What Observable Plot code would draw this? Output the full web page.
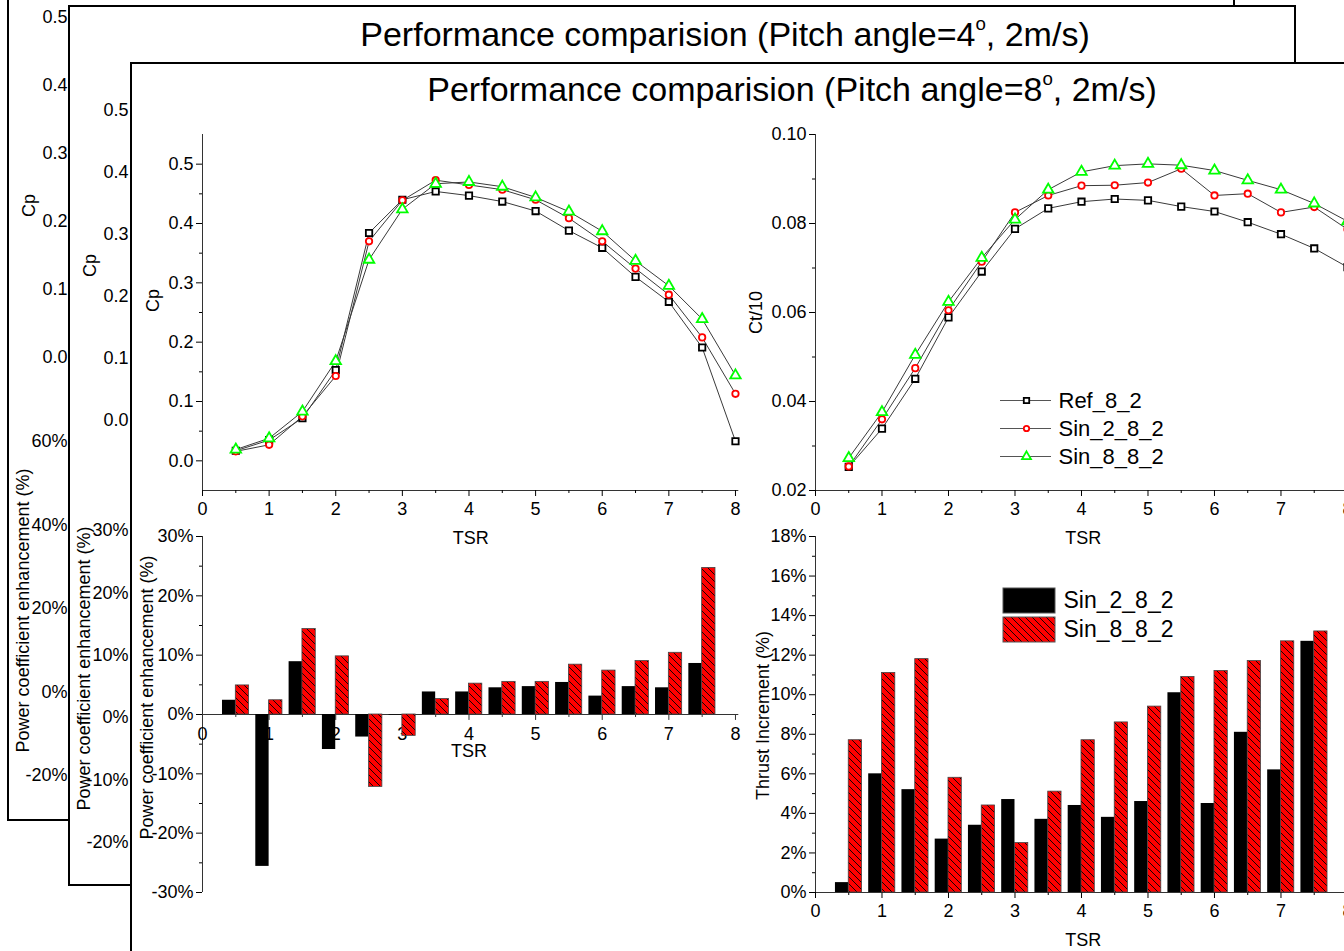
<!DOCTYPE html>
<html><head><meta charset="utf-8">
<script src="https://cdn.jsdelivr.net/npm/d3@7"></script>
<script src="https://cdn.jsdelivr.net/npm/@observablehq/plot@0.6"></script>
<style>
html,body{margin:0;padding:0;background:#fff;}
#stage{position:relative;width:1344px;height:951px;overflow:hidden;background:#fff;font-family:"Liberation Sans",Arial,sans-serif;}
.win{position:absolute;box-sizing:border-box;border:2px solid #000;background:#fff;overflow:hidden;}
.title{position:absolute;white-space:nowrap;font-size:34px;line-height:34px;transform:translateX(-50%);color:#000;}
.title .deg{font-size:0.55em;vertical-align:0.85em;}
</style></head><body>
<svg width="0" height="0" style="position:absolute"><defs>
<pattern id="hatch" patternUnits="userSpaceOnUse" width="7" height="7">
<rect width="7" height="7" fill="#ff0000"/>
<path d="M0,0L7,7M-1,6L1,8M6,-1L8,1" stroke="#000" stroke-width="0.9"/>
</pattern></defs></svg>
<div id="stage"></div>
<script>
// ---------------- DATA ----------------
const tsr = [0.5, 1, 1.5, 2, 2.5, 3, 3.5, 4, 4.5, 5, 5.5, 6, 6.5, 7, 7.5, 8];
const cpRef  = [0.017, 0.035, 0.072, 0.153, 0.384, 0.440, 0.454, 0.447, 0.437, 0.421, 0.388, 0.359, 0.310, 0.268, 0.191, 0.033];
const cpSin2 = [0.016, 0.027, 0.075, 0.143, 0.370, 0.439, 0.473, 0.465, 0.457, 0.440, 0.409, 0.370, 0.324, 0.280, 0.208, 0.113];
const cpSin8 = [0.019, 0.038, 0.083, 0.168, 0.339, 0.424, 0.467, 0.470, 0.462, 0.444, 0.420, 0.387, 0.337, 0.295, 0.239, 0.144];
const ctRef  = [0.0253, 0.0339, 0.0451, 0.0589, 0.0692, 0.0788, 0.0834, 0.0849, 0.0855, 0.0852, 0.0838, 0.0827, 0.0803, 0.0776, 0.0744, 0.0702];
const ctSin2 = [0.0254, 0.0360, 0.0475, 0.0605, 0.0714, 0.0825, 0.0863, 0.0885, 0.0886, 0.0892, 0.0923, 0.0863, 0.0867, 0.0825, 0.0837, 0.0787];
const ctSin8 = [0.0273, 0.0376, 0.0505, 0.0624, 0.0723, 0.0809, 0.0876, 0.0916, 0.0930, 0.0934, 0.0931, 0.0919, 0.0897, 0.0876, 0.0845, 0.0805];

const tsrBars = [0.5, 1, 1.5, 2, 2.5, 3, 3.5, 4, 4.5, 5, 5.5, 6, 6.5, 7, 7.5];
const enhSin2 = [2.4, -25.6, 8.9, -5.9, -3.8, -0.1, 3.8, 3.8, 4.5, 4.7, 5.4, 3.1, 4.7, 4.5, 8.6];
const enhSin8 = [4.9, 2.4, 14.4, 9.8, -12.2, -3.6, 2.6, 5.2, 5.5, 5.5, 8.4, 7.4, 9.0, 10.4, 24.7];
const thrSin2 = [0.5, 6.0, 5.2, 2.7, 3.4, 4.7, 3.7, 4.4, 3.8, 4.6, 10.1, 4.5, 8.1, 6.2, 12.7];
const thrSin8 = [7.7, 11.1, 11.8, 5.8, 4.4, 2.5, 5.1, 7.7, 8.6, 9.4, 10.9, 11.2, 11.7, 12.7, 13.2];

const lineSeriesNames = ["Ref_8_2", "Sin_2_8_2", "Sin_8_8_2"];
const barSeriesNames = ["Sin_2_8_2", "Sin_8_8_2"];

const xMajor = [0, 1, 2, 3, 4, 5, 6, 7, 8];
const xMinor = [0.5, 1.5, 2.5, 3.5, 4.5, 5.5, 6.5, 7.5];
const cpMajor = [0, 0.1, 0.2, 0.3, 0.4, 0.5];
const cpMinor = [0.05, 0.15, 0.25, 0.35, 0.45];
const ctMajor = [0.02, 0.04, 0.06, 0.08, 0.10];
const ctMinor = [0.03, 0.05, 0.07, 0.09];
const enhMajor = [-30, -20, -10, 0, 10, 20, 30];
const enhMinor = [-25, -15, -5, 5, 15, 25];
const thrMajor = [0, 2, 4, 6, 8, 10, 12, 14, 16, 18];
const thrMinor = [1, 3, 5, 7, 9, 11, 13, 15, 17];
const w1EnhMajor = [-20, 0, 20, 40, 60];
const w2EnhMajor = [-20, -10, 0, 10, 20, 30];

// ---------------- LAYOUT ----------------
const FONT = '"Liberation Sans", Arial, sans-serif';
const B = 2;
const OX = -100, OY = -100, SW = 1600, SH = 1200;
const WIN = [
  {left: 7, top: -60, width: 1228, height: 881},
  {left: 68, top: 5, width: 1228, height: 881},
  {left: 130, top: 62, width: 1400, height: 1000}
];
const F = {
  cp:    {left: 202, right: 738.3, top: 134, bottom: 490},
  ct:    {left: 815, right: 1350.3, top: 134, bottom: 490},
  enh:   {left: 202, right: 738.3, top: 536, bottom: 892},
  thr:   {left: 815, right: 1350.3, top: 536, bottom: 892},
  w1cp:  {left: 76, right: 600, top: -17, bottom: 391},
  w1enh: {left: 76, right: 600, top: 399.25, bottom: 816.75},
  w2cp:  {left: 137, right: 670, top: 79, bottom: 451},
  w2enh: {left: 137, right: 670, top: 530, bottom: 904.4}
};

const stage = document.getElementById("stage");
function makeWin(w) {
  const d = document.createElement("div");
  d.className = "win";
  Object.assign(d.style, {left: w.left + "px", top: w.top + "px", width: w.width + "px", height: w.height + "px"});
  stage.appendChild(d);
  return d;
}
function styleSvg(svg, win, left, top, fs) {
  Object.assign(svg.style, {position: "absolute", left: (left - win.left - B) + "px", top: (top - win.top - B) + "px",
    background: "none", maxWidth: "none", overflow: "visible", fontFamily: FONT, fontSize: fs, color: "#000"});
}
function panel(win, el, f, xDomain, yDomain, marks) {
  const svg = Plot.plot({
    width: SW, height: SH,
    marginLeft: f.left - OX, marginRight: OX + SW - f.right,
    marginTop: f.top - OY, marginBottom: OY + SH - f.bottom,
    x: {domain: xDomain, axis: null},
    y: {domain: yDomain, axis: null},
    marks
  });
  styleSvg(svg, win, OX, OY, "18px");
  svg.style.height = SH + "px";
  el.appendChild(svg);
}
function vlabel(text, f, cx, cy) {
  return Plot.text([text], {frameAnchor: "left", rotate: -90, text: d => d, textAnchor: "middle", lineAnchor: "middle",
    dx: cx - f.left, dy: cy - (f.top + f.bottom) / 2, fontSize: 18});
}
function yAxis(major, minor, fmt) {
  const m = [Plot.axisY(major, {anchor: "left", tickSize: 6, tickPadding: 3, tickFormat: fmt, label: null})];
  if (minor) m.push(Plot.axisY(minor, {anchor: "left", tickSize: 3, tickFormat: () => "", label: null}));
  return m;
}
function xAxisBottom() {
  return [
    Plot.axisX(xMajor, {anchor: "bottom", tickSize: 6, tickPadding: 6, tickFormat: d => String(d), label: null}),
    Plot.axisX(xMinor, {anchor: "bottom", tickSize: 3, tickFormat: () => "", label: null})
  ];
}
function tsrLabel() {
  return Plot.text(["TSR"], {frameAnchor: "bottom", lineAnchor: "middle", dy: 48, text: d => d, fontSize: 18});
}
const pct = d => d + "%";
const SERIES = [
  {key: "ref", name: "Ref_8_2", symbol: "square", color: "#000000", r: 3.6},
  {key: "sin2", name: "Sin_2_8_2", symbol: "circle", color: "#ff0000", r: 3.2},
  {key: "sin8", name: "Sin_8_8_2", symbol: "triangle", color: "#00ff00", r: 3.9}
];
function seriesMarks(rows) {
  return SERIES.map(s => Plot.line(rows, {x: "tsr", y: s.key, stroke: "#3a3a3a", strokeWidth: 1}))
    .concat(SERIES.map(s => Plot.dot(rows, {x: "tsr", y: s.key, symbol: s.symbol, r: s.r,
      stroke: s.color, strokeWidth: 1.8, fill: "#fff"})));
}
function barMarks(rows) {
  return [
    Plot.rect(rows, {x1: d => d.tsr - 0.2, x2: d => d.tsr, y1: () => 0, y2: "a", fill: "#000"}),
    Plot.rect(rows, {x1: d => d.tsr, x2: d => d.tsr + 0.2, y1: () => 0, y2: "b", fill: "url(#hatch)", stroke: "#444", strokeWidth: 0.8})
  ];
}

const cpRows = tsr.map((t, i) => ({tsr: t, ref: cpRef[i], sin2: cpSin2[i], sin8: cpSin8[i]}));
const ctRows = tsr.map((t, i) => ({tsr: t, ref: ctRef[i], sin2: ctSin2[i], sin8: ctSin8[i]}));
const enhRows = tsrBars.map((t, i) => ({tsr: t, a: enhSin2[i], b: enhSin8[i]}));
const thrRows = tsrBars.map((t, i) => ({tsr: t, a: thrSin2[i], b: thrSin8[i]}));

// ---------------- WINDOW 1 (back) ----------------
const w1 = makeWin(WIN[0]);
panel(WIN[0], w1, F.w1cp, [0, 8.05], [-0.05, 0.55], [
  ...yAxis(cpMajor, null, d3.format(".1f")),
  vlabel("Cp", F.w1cp, 29, 205)
]);
panel(WIN[0], w1, F.w1enh, [0, 8.05], [-30, 70], [
  ...yAxis(w1EnhMajor, null, pct),
  vlabel("Power coefficient enhancement (%)", F.w1enh, 23, 610)
]);

// ---------------- WINDOW 2 ----------------
const w2 = makeWin(WIN[1]);
panel(WIN[1], w2, F.w2cp, [0, 8.05], [-0.05, 0.55], [
  ...yAxis(cpMajor, null, d3.format(".1f")),
  vlabel("Cp", F.w2cp, 90, 265)
]);
panel(WIN[1], w2, F.w2enh, [0, 8.05], [-30, 30], [
  ...yAxis(w2EnhMajor, null, pct),
  vlabel("Power coefficient enhancement (%)", F.w2enh, 84, 668)
]);
const t2 = document.createElement("div");
t2.className = "title";
t2.innerHTML = 'Performance comparision (Pitch angle=4<span class="deg">o</span>, 2m/s)';
t2.style.left = (725 - WIN[1].left - B) + "px";
t2.style.top = (7 - WIN[1].top - B) + "px";
w2.appendChild(t2);

// ---------------- WINDOW 3 (front) ----------------
const w3 = makeWin(WIN[2]);
const t3 = document.createElement("div");
t3.className = "title";
t3.innerHTML = 'Performance comparision (Pitch angle=8<span class="deg">o</span>, 2m/s)';
t3.style.left = (792 - WIN[2].left - B) + "px";
t3.style.top = (62 - WIN[2].top - B) + "px";
w3.appendChild(t3);

// Cp
panel(WIN[2], w3, F.cp, [0, 8.05], [-0.05, 0.55], [
  Plot.ruleX([0], {stroke: "#333"}),
  Plot.ruleY([-0.05], {stroke: "#333"}),
  ...yAxis(cpMajor, cpMinor, d3.format(".1f")),
  ...xAxisBottom(),
  vlabel("Cp", F.cp, 153, 300),
  tsrLabel(),
  ...seriesMarks(cpRows)
]);
// Ct/10
panel(WIN[2], w3, F.ct, [0, 8.05], [0.02, 0.10], [
  Plot.ruleX([0], {stroke: "#333"}),
  Plot.ruleY([0.02], {stroke: "#333"}),
  ...yAxis(ctMajor, ctMinor, d3.format(".2f")),
  ...xAxisBottom(),
  vlabel("Ct/10", F.ct, 756, 312),
  tsrLabel(),
  ...seriesMarks(ctRows)
]);
// Power coefficient enhancement
panel(WIN[2], w3, F.enh, [0, 8.05], [-30, 30], [
  Plot.ruleX([0], {stroke: "#333"}),
  Plot.ruleY([0], {stroke: "#333"}),
  ...yAxis(enhMajor, enhMinor, pct),
  Plot.ruleX(xMajor, {x: d => d, y1: () => 0, y2: () => -1, stroke: "#333"}),
  Plot.ruleX(xMinor, {x: d => d, y1: () => 0, y2: () => -0.5, stroke: "#333"}),
  Plot.text(xMajor, {x: d => d, y: () => 0, dy: 20, text: d => String(d), fontSize: 18}),
  Plot.text(["TSR"], {x: () => 4, y: () => 0, dy: 37, text: d => d, fontSize: 18}),
  vlabel("Power coefficient enhancement (%)", F.enh, 147, 697),
  ...barMarks(enhRows)
]);
// Thrust increment
panel(WIN[2], w3, F.thr, [0, 8.05], [0, 18], [
  Plot.ruleX([0], {stroke: "#333"}),
  Plot.ruleY([0], {stroke: "#333"}),
  ...yAxis(thrMajor, thrMinor, pct),
  ...xAxisBottom(),
  vlabel("Thrust Increment (%)", F.thr, 763, 715),
  tsrLabel(),
  ...barMarks(thrRows)
]);

// Line legend
{
  const svg = Plot.plot({
    width: 200, height: 90, margin: 0,
    x: {domain: [0, 200], range: [0, 200], axis: null},
    y: {type: "point", domain: lineSeriesNames, range: [20, 76], padding: 0, axis: null},
    marks: SERIES.flatMap(s => [
      Plot.ruleY([s.name], {y: d => d, x1: () => 10, x2: () => 61, stroke: "#555"}),
      Plot.dot([s.name], {x: () => 36, y: d => d, symbol: s.symbol, r: s.r * 0.85, stroke: s.color, strokeWidth: 1.8, fill: "#fff"}),
      Plot.text([s.name], {x: () => 68, y: d => d, text: d => d, textAnchor: "start", fontSize: 22})
    ])
  });
  styleSvg(svg, WIN[2], 990, 380, "22px");
  w3.appendChild(svg);
}
// Bar legend
{
  const fills = {"Sin_2_8_2": "#000", "Sin_8_8_2": "url(#hatch)"};
  const svg = Plot.plot({
    width: 200, height: 70, margin: 0,
    x: {domain: [0, 200], range: [0, 200], axis: null},
    y: {type: "band", domain: barSeriesNames, range: [7, 63], paddingInner: 0.133, paddingOuter: 0, axis: null},
    marks: barSeriesNames.flatMap(n => [
      Plot.barX([n], {x1: () => 8, x2: () => 60, y: d => d, fill: fills[n], stroke: "#555", strokeWidth: 1}),
      Plot.text([n], {x: () => 68, y: d => d, text: d => d, textAnchor: "start", fontSize: 23})
    ])
  });
  styleSvg(svg, WIN[2], 995, 580, "23px");
  w3.appendChild(svg);
}
</script>
</body></html>
